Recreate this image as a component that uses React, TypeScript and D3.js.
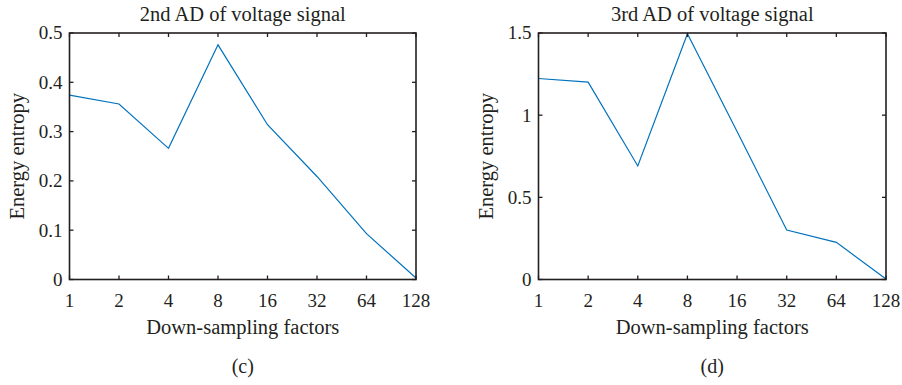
import React from 'react';
import * as d3 from 'd3';

// down-sampling factors on the x axis (log2 spaced)
const factors = [1, 2, 4, 8, 16, 32, 64, 128];

// energy entropy
const entropy2nd = [0.374, 0.356, 0.266, 0.476, 0.314, 0.209, 0.093, 0.003];
const entropy3rd = [1.223, 1.201, 0.691, 1.495, 0.9, 0.301, 0.226, 0.003];

const ticks2nd = [0, 0.1, 0.2, 0.3, 0.4, 0.5];
const ticks3rd = [0, 0.5, 1, 1.5];

const FONT = '"Liberation Serif", "Times New Roman", serif';
const LINE = '#0072BD';
const INK = '#231f20';

interface PanelProps {
  x0: number;
  x1: number;
  y0: number;
  y1: number;
  values: number[];
  yMax: number;
  yTicks: number[];
  title: string;
  tag: string;
}

const Panel: React.FC<PanelProps> = ({ x0, x1, y0, y1, values, yMax, yTicks, title, tag }) => {
  const xScale = d3.scaleLog().base(2).domain([1, 128]).range([x0, x1]);
  const yScale = d3.scaleLinear().domain([0, yMax]).range([y1, y0]);

  const line = d3
    .line<number>()
    .x((_, i) => xScale(factors[i]))
    .y((d) => yScale(d));

  const fmt = (d: number) => (d === 0 ? '0' : String(d));
  const tl = 4; // tick length, drawn inward
  const cx = (x0 + x1) / 2;

  return (
    <g fontFamily={FONT} fill={INK}>
      {/* data line */}
      <path d={line(values) || ''} fill="none" stroke={LINE} strokeWidth={1.2} />

      {/* ticks on all four sides */}
      {factors.map((f) => (
        <g key={'x' + f}>
          <line x1={xScale(f)} x2={xScale(f)} y1={y1} y2={y1 - tl} stroke={INK} strokeWidth={1.3} />
          <line x1={xScale(f)} x2={xScale(f)} y1={y0} y2={y0 + tl} stroke={INK} strokeWidth={1.3} />
          <text x={xScale(f)} y={307} textAnchor="middle" fontSize={19}>
            {f}
          </text>
        </g>
      ))}
      {yTicks.map((t) => (
        <g key={'y' + t}>
          <line x1={x0} x2={x0 + tl} y1={yScale(t)} y2={yScale(t)} stroke={INK} strokeWidth={1.3} />
          <line x1={x1} x2={x1 - tl} y1={yScale(t)} y2={yScale(t)} stroke={INK} strokeWidth={1.3} />
          <text x={x0 - 7} y={yScale(t)} dy="0.34em" textAnchor="end" fontSize={19}>
            {fmt(t)}
          </text>
        </g>
      ))}

      {/* box */}
      <rect x={x0} y={y0} width={x1 - x0} height={y1 - y0} fill="none" stroke={INK} strokeWidth={1.6} />

      <text x={cx} y={21} textAnchor="middle" fontSize={20.5}>
        {title}
      </text>
      <text x={cx} y={334} textAnchor="middle" fontSize={20.5}>
        Down-sampling factors
      </text>
      <text
        transform={`translate(${x0 - 46},${(y0 + y1) / 2}) rotate(-90)`}
        textAnchor="middle"
        fontSize={20.5}
      >
        Energy entropy
      </text>
      <text x={cx} y={373} textAnchor="middle" fontSize={20}>
        {tag}
      </text>
    </g>
  );
};

export default function App() {
  return (
    <div style={{ position: 'fixed', left: 0, top: 0, background: '#fff' }}>
      <svg width={902} height={385}>
        <rect width={902} height={385} fill="#fff" />
        <Panel
          x0={69.5}
          x1={416}
          y0={33}
          y1={279.5}
          values={entropy2nd}
          yMax={0.5}
          yTicks={ticks2nd}
          title="2nd AD of voltage signal"
          tag="(c)"
        />
        <Panel
          x0={538.5}
          x1={886}
          y0={33}
          y1={279.5}
          values={entropy3rd}
          yMax={1.5}
          yTicks={ticks3rd}
          title="3rd AD of voltage signal"
          tag="(d)"
        />
      </svg>
    </div>
  );
}
